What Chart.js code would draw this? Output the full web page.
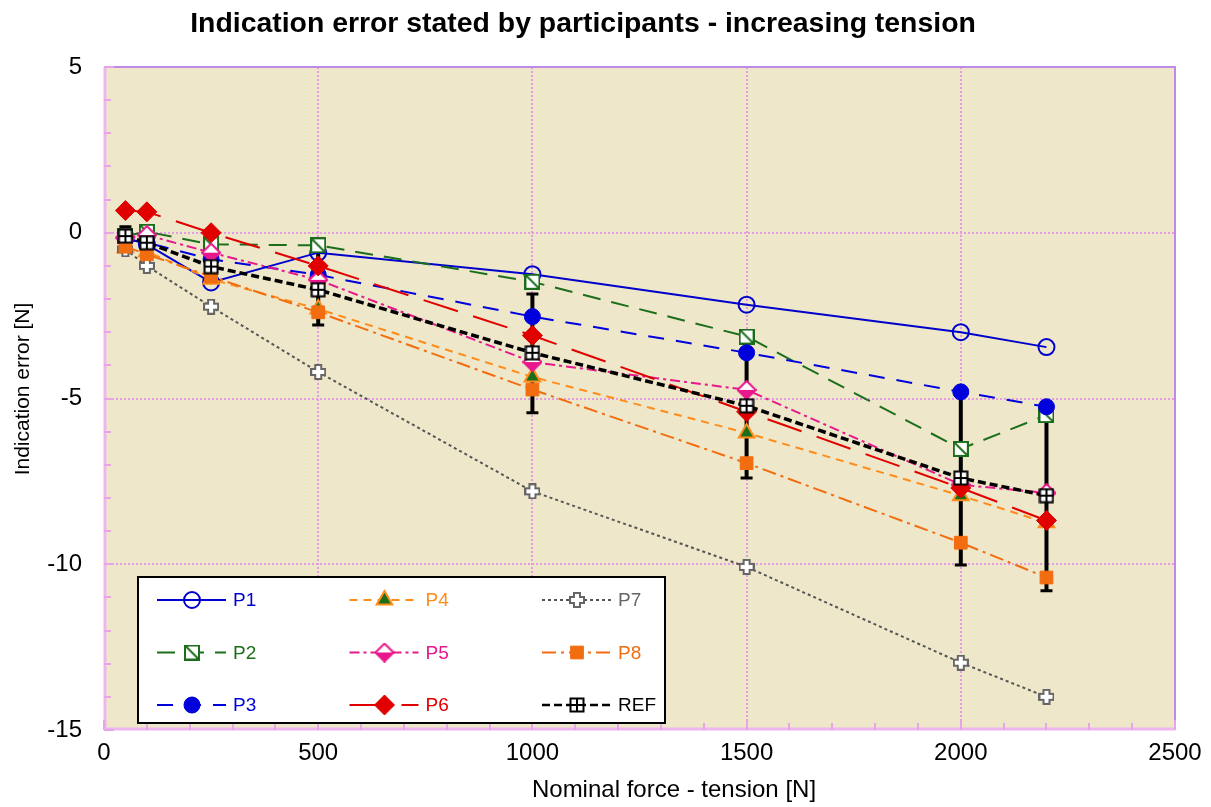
<!DOCTYPE html>
<html>
<head>
<meta charset="utf-8">
<script src="https://cdn.jsdelivr.net/npm/chart.js"></script>
<style>
html, body { margin: 0; padding: 0; background: #fff; }
canvas { display: block; }
</style>
</head>
<body>
<canvas id="chart" width="1211" height="807"></canvas>
<script>
// nominal force points [N]
const forces = [50, 100, 250, 500, 1000, 1500, 2000, 2200];

// indication error per participant [N]
const p1 = [-0.15, -0.35, -1.5, -0.6, -1.25, -2.17, -3.0, -3.45];
const p2 = [-0.1, 0.03, -0.35, -0.38, -1.48, -3.13, -6.52, -5.5];
const p3 = [-0.2, -0.3, -0.8, -1.27, -2.53, -3.62, -4.8, -5.25];
const p4 = [-0.45, -0.57, -1.4, -2.3, -4.35, -6.04, -7.93, -8.75];
const p5 = [-0.15, -0.07, -0.6, -1.42, -3.9, -4.74, -7.6, -7.85];
const p6 = [0.67, 0.63, 0.0, -1.0, -3.1, -5.4, -7.7, -8.68];
const p7 = [-0.5, -1.0, -2.23, -4.2, -7.8, -10.08, -12.97, -14.0];
const p8 = [-0.42, -0.65, -1.32, -2.4, -4.73, -6.95, -9.35, -10.4];
const ref = [-0.1, -0.3, -1.02, -1.72, -3.62, -5.22, -7.4, -7.93];

// REF uncertainty range
const refHigh = [0.18, 0.0, -0.75, -0.48, -1.85, -3.3, -4.8, -5.3];
const refLow = [-0.4, -0.6, -1.3, -2.78, -5.43, -7.4, -10.02, -10.8];

const seriesNames = ["P1", "P2", "P3", "P4", "P5", "P6", "P7", "P8", "REF"];

const xTicks = [0, 500, 1000, 1500, 2000, 2500];
const yTicks = [5, 0, -5, -10, -15];

function marker(w, h, draw) {
    const c = document.createElement("canvas");
    c.width = w; c.height = h;
    draw(c.getContext("2d"));
    return c;
}

const mkP2 = marker(16, 16, g => {
    g.fillStyle = "#fff"; g.fillRect(1, 1, 14, 14);
    g.strokeStyle = "#1b6e1b"; g.lineWidth = 2;
    g.strokeRect(1, 1, 14, 14);
    g.beginPath(); g.moveTo(2, 2); g.lineTo(14, 14); g.stroke();
});
const mkP5 = marker(20, 20, g => {
    g.beginPath(); g.moveTo(10, 1); g.lineTo(19, 10); g.lineTo(10, 19); g.lineTo(1, 10); g.closePath();
    g.fillStyle = "#fff"; g.fill();
    g.beginPath(); g.moveTo(1, 10); g.lineTo(19, 10); g.lineTo(10, 19); g.closePath();
    g.fillStyle = "#e8188c"; g.fill();
    g.beginPath(); g.moveTo(10, 1); g.lineTo(19, 10); g.lineTo(10, 19); g.lineTo(1, 10); g.closePath();
    g.strokeStyle = "#e8188c"; g.lineWidth = 2; g.stroke();
});
const mkP7 = marker(16, 16, g => {
    g.beginPath();
    const a = 5, b = 11;
    g.moveTo(a, 1); g.lineTo(b, 1); g.lineTo(b, a); g.lineTo(15, a); g.lineTo(15, b); g.lineTo(b, b);
    g.lineTo(b, 15); g.lineTo(a, 15); g.lineTo(a, b); g.lineTo(1, b); g.lineTo(1, a); g.lineTo(a, a); g.closePath();
    g.fillStyle = "#fff"; g.fill();
    g.strokeStyle = "#666"; g.lineWidth = 2; g.stroke();
});
const mkRef = marker(16, 16, g => {
    g.fillStyle = "#fff"; g.fillRect(1, 1, 14, 14);
    g.strokeStyle = "#000"; g.lineWidth = 2;
    g.strokeRect(1.5, 1.5, 13, 13);
    g.beginPath(); g.moveTo(8, 1); g.lineTo(8, 15); g.moveTo(1, 8); g.lineTo(15, 8); g.stroke();
});

const series = [p1, p2, p3, p4, p5, p6, p7, p8, ref];
const styles = [
    { color: "#0000cc", text: "#0000cc", dash: [], width: 2, point: "circle", r: 8, bg: "rgba(0,0,0,0)", bc: "#0000cc", bw: 2 },
    { color: "#1b6e1b", text: "#1b6e1b", dash: [18, 11], width: 2, point: mkP2, r: 8, bg: "#fff", bc: "#1b6e1b", bw: 0 },
    { color: "#0000dd", text: "#0000dd", dash: [16, 12], width: 2, point: "circle", r: 8, bg: "#0000dd", bc: "#0000dd", bw: 1 },
    { color: "#ff8c1a", text: "#ff8c1a", dash: [8, 6], width: 2, point: "triangle", r: 9, bg: "#1b6e1b", bc: "#ff8c1a", bw: 2 },
    { color: "#e8188c", text: "#e8188c", dash: [10, 4, 3, 4], width: 2, point: mkP5, r: 10, bg: "#fff", bc: "#e8188c", bw: 0 },
    { color: "#e00000", text: "#e00000", dash: [36, 16], width: 2, point: "rectRot", r: 10, bg: "#e00000", bc: "#e00000", bw: 1 },
    { color: "#555555", text: "#666666", dash: [3, 3], width: 2, point: mkP7, r: 8, bg: "#fff", bc: "#666", bw: 0 },
    { color: "#f26d10", text: "#f26d10", dash: [14, 5, 3, 5], width: 2, point: "rect", r: 9, bg: "#f26d10", bc: "#f26d10", bw: 1 },
    { color: "#000000", text: "#000000", dash: [8, 4], width: 3.5, point: mkRef, r: 8, bg: "#fff", bc: "#000", bw: 0 }
];

const datasets = series.map((vals, i) => {
    const s = styles[i];
    return {
        label: seriesNames[i],
        data: forces.map((f, k) => ({ x: f, y: vals[k] })),
        borderColor: s.color,
        borderWidth: s.width,
        borderDash: s.dash,
        pointStyle: s.point,
        pointRadius: s.r,
        pointHoverRadius: s.r,
        pointBackgroundColor: s.bg,
        pointBorderColor: s.bc,
        pointBorderWidth: s.bw,
        fill: false,
        tension: 0,
        order: series.length - 1 - i   // later series on top
    };
});

const BEIGE = "#efe7c9";
const GRID = "#e39be3";
const FONT = "'Liberation Sans', Arial, sans-serif";

const framePlugin = {
    id: "frame",
    beforeDraw(chart) {
        const { ctx, chartArea: a } = chart;
        ctx.save();
        ctx.fillStyle = "#fff";
        ctx.fillRect(0, 0, chart.width, chart.height);
        ctx.fillStyle = BEIGE;
        ctx.fillRect(a.left, a.top, a.right - a.left, a.bottom - a.top);
        ctx.restore();
    },
    beforeDatasetsDraw(chart) {
        // error bars of REF, behind the markers
        const { ctx, scales: { x, y } } = chart;
        ctx.save();
        ctx.strokeStyle = "#000";
        forces.forEach((f, k) => {
            const px = x.getPixelForValue(f);
            const yt = y.getPixelForValue(refHigh[k]);
            const yb = y.getPixelForValue(refLow[k]);
            ctx.lineWidth = 4;
            ctx.beginPath(); ctx.moveTo(px, yt); ctx.lineTo(px, yb); ctx.stroke();
            ctx.lineWidth = 3;
            ctx.beginPath();
            ctx.moveTo(px - 6, yt); ctx.lineTo(px + 6, yt);
            ctx.moveTo(px - 6, yb); ctx.lineTo(px + 6, yb);
            ctx.stroke();
        });
        ctx.restore();
    },
    afterDraw(chart) {
        const { ctx, chartArea: a, scales: { x, y } } = chart;
        ctx.save();
        // top / right border
        ctx.strokeStyle = "#c08ae6";
        ctx.lineWidth = 2;
        ctx.beginPath();
        ctx.moveTo(a.left, a.top); ctx.lineTo(a.right, a.top); ctx.lineTo(a.right, a.bottom);
        ctx.stroke();
        // left / bottom axis
        ctx.strokeStyle = "#eeb6ee";
        ctx.lineWidth = 3;
        ctx.beginPath();
        ctx.moveTo(a.left + 1, a.top); ctx.lineTo(a.left + 1, a.bottom - 1); ctx.lineTo(a.right, a.bottom - 1);
        ctx.stroke();
        // minor ticks
        ctx.strokeStyle = "#e7a5e7";
        ctx.lineWidth = 2;
        ctx.beginPath();
        for (let v = -15; v <= 5; v += 1) {
            const py = Math.round(y.getPixelForValue(v));
            ctx.moveTo(a.left, py); ctx.lineTo(a.left + (v % 5 === 0 ? 10 : 7), py);
        }
        for (let v = 0; v <= 2500; v += 100) {
            const px = Math.round(x.getPixelForValue(v));
            ctx.moveTo(px, a.bottom); ctx.lineTo(px, a.bottom - (v % 500 === 0 ? 10 : 7));
        }
        ctx.stroke();

        // titles
        ctx.fillStyle = "#000";
        ctx.textAlign = "center";
        ctx.textBaseline = "middle";
        ctx.font = "bold 28.4px " + FONT;
        ctx.fillText("Indication error stated by participants - increasing tension", 583, 24);
        ctx.font = "24px " + FONT;
        ctx.fillText("Nominal force - tension [N]", 674, 790);
        ctx.font = "21px " + FONT;
        ctx.translate(23, 389);
        ctx.rotate(-Math.PI / 2);
        ctx.fillText("Indication error [N]", 0, 0);
        ctx.restore();

        // legend, column by column
        const L = { left: 138, top: 577, right: 665, bottom: 723 };
        ctx.save();
        ctx.fillStyle = "#fff";
        ctx.fillRect(L.left, L.top, L.right - L.left, L.bottom - L.top);
        ctx.strokeStyle = "#000";
        ctx.lineWidth = 2;
        ctx.strokeRect(L.left, L.top, L.right - L.left, L.bottom - L.top);
        ctx.font = "19px " + FONT;
        ctx.textAlign = "left";
        ctx.textBaseline = "middle";
        chart.data.datasets.forEach((ds, i) => {
            const s = styles[i];
            const col = Math.floor(i / 3), row = i % 3;
            const x0 = 157 + col * 192.5;
            const yy = 600 + row * 52.5;
            ctx.strokeStyle = s.color;
            ctx.lineWidth = Math.min(s.width, 2.5);
            ctx.setLineDash(s.dash);
            ctx.beginPath(); ctx.moveTo(x0, yy); ctx.lineTo(x0 + 69, yy); ctx.stroke();
            ctx.setLineDash([]);
            ctx.fillStyle = s.bg;
            ctx.strokeStyle = s.bc;
            ctx.lineWidth = s.bw;
            Chart.helpers.drawPoint(ctx, { pointStyle: s.point, radius: s.r, borderWidth: s.bw, rotation: 0 }, x0 + 35, yy);
            ctx.fillStyle = s.text;
            ctx.fillText(seriesNames[i], x0 + 76, yy + 1);
        });
        ctx.restore();
    }
};

const tickFont = { family: FONT, size: 24 };

new Chart(document.getElementById("chart"), {
    type: "line",
    data: { datasets },
    options: {
        responsive: false,
        animation: false,
        layout: { padding: { left: 0, right: 36, top: 67, bottom: 0 } },
        plugins: { legend: { display: false }, tooltip: { enabled: false }, title: { display: false } },
        scales: {
            x: {
                type: "linear",
                min: 0, max: 2500,
                afterBuildTicks: s => { s.ticks = xTicks.map(v => ({ value: v })); },
                afterFit: s => { s.height = 77; },
                ticks: { color: "#000", font: tickFont, padding: 9, maxRotation: 0, callback: v => String(v) },
                grid: {
                    drawTicks: false,
                    lineWidth: 2,
                    color: c => (c.tick && (c.tick.value === 0 || c.tick.value === 2500)) ? "rgba(0,0,0,0)" : GRID
                },
                border: { display: false, dash: [2, 2] }
            },
            y: {
                type: "linear",
                min: -15, max: 5,
                afterBuildTicks: s => { s.ticks = yTicks.map(v => ({ value: v })); },
                afterFit: s => { s.width = 104; },
                ticks: { color: "#000", font: tickFont, padding: 22, callback: v => String(v) },
                grid: {
                    drawTicks: false,
                    lineWidth: 2,
                    color: c => (c.tick && (c.tick.value === 5 || c.tick.value === -15)) ? "rgba(0,0,0,0)" : GRID
                },
                border: { display: false, dash: [2, 2] }
            }
        }
    },
    plugins: [framePlugin]
});
</script>
</body>
</html>
